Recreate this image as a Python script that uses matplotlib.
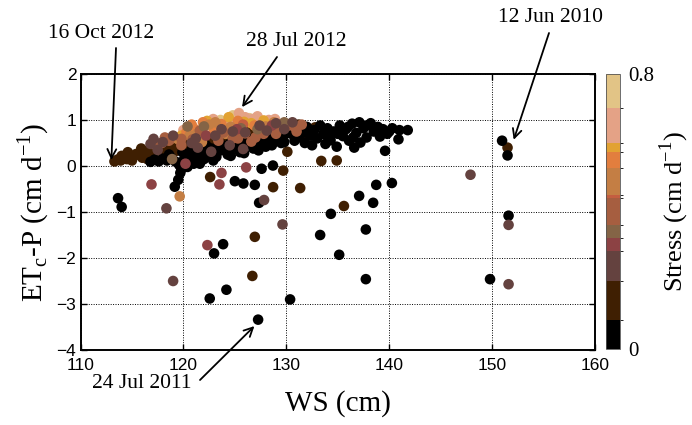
import matplotlib
matplotlib.use("Agg")
import matplotlib.pyplot as plt
from matplotlib.colors import ListedColormap, BoundaryNorm

# ---- colour scale (stress, cm d-1) ----
band_edges = [0, 0.085, 0.197, 0.284, 0.3225, 0.361, 0.439, 0.448, 0.526, 0.574, 0.6, 0.7, 0.8]
band_colors = ["#000000", "#3F1F02", "#64423F", "#8C4244", "#846446", "#A65E40",
               "#C45E40", "#C47E44", "#E27E3E", "#E2A232", "#E4A286", "#E2C486"]

# ---- coloured (higher stress) points ----
ws_col = [124.8, 126.4, 122.6, 127.5, 123.6, 125.0,
          125.4, 122.9, 127.2, 126.7, 121.6, 124.3, 128.3, 123.3, 124.0, 126.0, 128.9, 121.0, 120.0, 122.0,
          127.8, 122.3, 125.9, 119.8, 124.4, 126.6,
          121.9, 121.0, 123.7, 126.9, 120.3, 120.8, 125.3, 123.0,
          120.6, 123.1, 124.6, 128.8, 121.3, 119.5, 128.0, 119.64, 118.9, 122.5, 127.5, 124.1, 121.8,
          125.8,
          119.8, 123.9, 126.0, 126.6, 129.4, 130.2, 121.6, 118.6, 124.8, 127.8, 130.8, 131.5, 117.9, 120.9,
          117.0, 118.2, 125.3, 123.4, 129.0, 131.0, 119.8, 127.0,
          118.9, 122.0, 127.2, 129.8, 120.4, 125.6,
          125.2, 123.7, 123.5, 126.1, 116.9, 122.33, 120.2, 122.2, 128.6,
          119.0, 117.1, 123.1, 126.0, 125.8, 128.1, 122.7, 129.0, 117.5, 118.35, 119.0, 129.63,
          127.84, 147.9, 151.6, 151.6, 124.5, 120.8, 121.4,
          118.0, 121.2, 123.7, 124.8, 127.4, 129.8, 130.6, 116.8]
etcp_col = [1.10, 1.04, 0.82, 0.95, 1.00, 0.92,
            1.15, 1.02, 1.08, 1.02, 0.62, 0.98, 1.00, 0.90, 0.82, 1.06, 1.02, 0.68, 0.78, 0.72,
            0.99, 0.98, 0.96, 0.66, 1.06, 0.93,
            0.95, 0.82, 0.91, 0.88, 0.74, 0.90, 0.98, 0.78,
            0.66, 0.95, 0.85, 0.95, 0.70, 0.58, 0.86, -0.66, 0.60, 0.90, 0.82, 0.70, 0.52,
            0.90,
            0.59, 0.73, 0.71, 0.53, 0.84, 0.88, 0.77, 0.55, 0.60, 0.70, 0.85, 0.90, 0.50, 0.58,
            0.48, 0.62, 0.60, 0.55, 0.70, 0.75, 0.45, 0.62,
            0.15, 0.86, 0.80, 0.95, 0.86, 0.82,
            0.80, -0.15, -0.40, -0.03, -0.40, -1.72, 0.05, 0.66, 0.88,
            0.66, 0.59, 0.66, 0.73, 0.37, 0.77, 0.31, 0.93, 0.35, -0.92, -2.50, -1.27,
            -0.74, -0.19, -1.28, -2.57, 0.45, 0.50, 0.40,
            0.52, 0.60, 0.80, 0.75, 0.88, 0.80, 0.95, 0.48]
stress_col = ([0.75] * 6 + [0.65] * 14 + [0.59] * 6 + [0.55] * 8 + [0.49] * 13 + [0.445]
              + [0.40] * 22 + [0.34] * 6 + [0.30] * 9 + [0.24] * 27)

# ---- dark brown points (stress ~0.14) ----
ws_brn = [113.3, 113.6, 113.9, 114.2, 114.5, 114.8, 115.1, 115.4, 115.7, 116.0, 116.3, 116.6,
          116.9, 117.2, 117.5, 117.8, 118.1, 118.4, 118.7, 119.0, 119.3, 119.6, 119.9, 120.2,
          114.0, 115.0, 116.0, 117.0, 118.0, 119.2, 120.5, 121.0, 121.5, 122.0, 122.5, 123.0,
          124.0, 125.0, 126.0, 127.0, 128.0, 129.0, 130.0, 131.0, 132.0, 126.5, 128.5, 129.5,
          131.5, 130.3, 131.2, 132.0, 132.8, 130.8, 130.1, 129.7, 131.35, 133.4, 134.9, 128.72,
          126.7, 126.94, 135.6, 122.6, 151.5, 124.6, 127.6,
          121.8, 123.5, 125.5, 127.5, 129.2, 124.5, 126.2, 128.2,
          114.6, 115.9, 117.3, 118.5, 116.5, 119.7]
etcp_brn = [0.10, 0.14, 0.12, 0.18, 0.15, 0.22, 0.20, 0.26, 0.24, 0.30, 0.28, 0.34,
            0.30, 0.40, 0.36, 0.44, 0.38, 0.46, 0.42, 0.50, 0.45, 0.52, 0.48, 0.56,
            0.22, 0.12, 0.18, 0.22, 0.28, 0.32, 0.40, 0.50, 0.45, 0.55, 0.50, 0.60,
            0.62, 0.66, 0.60, 0.70, 0.72, 0.75, 0.78, 0.80, 0.82, 0.78, 0.62, 0.58,
            0.68, 0.82, 0.90, 0.75, 0.84, 0.65, 0.31, -0.10, -0.48, 0.11, 0.12, -0.46,
            -2.39, -1.54, -0.87, -0.24, 0.40, 0.30, 0.45,
            0.62, 0.70, 0.75, 0.80, 0.85, 0.55, 0.65, 0.55,
            0.30, 0.38, 0.50, 0.32, 0.15, 0.36]

# ---- black points (stress < 0.085) ----
ws_blk = [116.8, 117.2, 117.6, 118.0, 118.4, 118.8, 119.2, 119.6, 119.8, 120.0, 120.3, 120.6,
          120.9, 121.2, 121.5, 121.8, 122.1, 122.4, 122.7, 123.0, 123.3, 123.6, 123.9, 124.2,
          124.5, 124.8, 125.1, 125.4, 125.7, 126.0, 126.3, 126.6, 126.9, 127.2, 127.5, 127.8,
          128.1, 128.4, 128.7, 129.0, 129.3, 129.6, 129.9, 120.4, 121.0, 122.0, 123.2, 124.3,
          125.5, 126.8, 128.0, 129.5, 119.5, 119.7,
          120.8, 122.2, 123.5, 124.9, 126.2, 127.4, 128.8, 121.6, 122.9, 124.6, 125.9, 127.3,
          128.6, 129.8, 118.6, 119.9,
          130.5, 131.0, 131.2, 131.6, 132.0, 132.3, 132.7, 133.0, 133.3, 133.6, 134.0, 134.3,
          134.6, 134.9, 135.2, 135.5, 135.8, 136.1, 136.4, 136.6, 136.8, 137.1, 137.2, 137.5,
          137.8, 138.2, 138.5, 138.9, 139.1, 139.4, 139.6, 140.0, 140.3, 140.9, 141.0, 141.8,
          130.8, 131.8, 132.5, 133.8, 135.0, 136.0, 137.8, 139.8, 134.0, 136.5,
          113.65, 114.0, 119.16, 122.98, 123.86, 122.56, 124.18, 127.26, 130.37, 127.36, 125.83,
          126.94, 125.0, 133.29, 134.33, 135.14, 137.08, 138.44, 137.73, 137.73, 138.74, 140.26,
          151.6, 149.8, 150.97, 151.5, 127.6, 128.7]
etcp_blk = [0.09, 0.14, 0.10, 0.16, 0.12, 0.18, 0.10, 0.02, -0.07, 0.12, 0.20, 0.10,
            0.25, 0.18, 0.30, 0.22, 0.32, 0.26, 0.38, 0.30, 0.40, 0.34, 0.44, 0.36,
            0.48, 0.40, 0.50, 0.42, 0.52, 0.46, 0.55, 0.48, 0.58, 0.50, 0.60, 0.52,
            0.62, 0.55, 0.65, 0.58, 0.68, 0.60, 0.70, -0.02, 0.05, 0.15, 0.20, 0.25,
            0.30, 0.38, 0.42, 0.50, -0.30, -0.15,
            0.35, 0.45, 0.50, 0.58, 0.62, 0.68, 0.74, 0.05, 0.12, 0.22, 0.28, 0.34,
            0.45, 0.52, 0.25, 0.30,
            0.70, 0.80, 0.62, 0.72, 0.85, 0.66, 0.78, 0.60, 0.88, 0.70, 0.82, 0.56,
            0.75, 0.42, 0.88, 0.65, 0.80, 0.55, 0.92, 0.40, 0.72, 0.95, 0.51, 0.82,
            0.62, 0.93, 0.75, 0.85, 0.64, 0.80, 0.33, 0.75, 0.82, 0.58, 0.78, 0.78,
            0.55, 0.50, 0.45, 0.48, 0.70, 0.85, 0.88, 0.70, 0.65, 0.62,
            -0.70, -0.89, -0.45, -1.90, -1.70, -2.88, -2.69, -3.34, -2.90, -0.80, -0.38,
            -0.41, -0.33, -1.50, -1.04, -1.93, -0.65, -0.80, -1.38, -2.46, -0.41, -0.37,
            -1.08, -2.46, 0.55, 0.23, -0.06, 0.01]

# drawing order: dark brown, black, then the higher-stress colours on top
ws = ws_brn + ws_blk + ws_col
etcp = etcp_brn + etcp_blk + etcp_col
stress = [0.14] * len(ws_brn) + [0.04] * len(ws_blk) + stress_col

x_ticks = [110, 120, 130, 140, 150, 160]
y_ticks = [-4, -3, -2, -1, 0, 1, 2]

annotations = [("16 Oct 2012", (113.0, 0.13)),
               ("28 Jul 2012", (125.7, 1.28)),
               ("12 Jun 2010", (152.1, 0.57)),
               ("24 Jul 2011", (126.9, -3.48))]

# ---- figure ----
W, H = 692, 425
fig = plt.figure(figsize=(W / 100, H / 100), dpi=100)
ax = fig.add_axes([80.5 / W, 1 - 350 / H, (595 - 80.5) / W, (350 - 74) / H])
cax = fig.add_axes([606 / W, 1 - 349 / H, 14 / W, (349 - 74) / H])

cmap = ListedColormap(band_colors)
norm = BoundaryNorm(band_edges, cmap.N)

sc = ax.scatter(ws, etcp, c=stress, cmap=cmap, norm=norm, s=58, linewidths=0, zorder=3)

ax.set_xlim(110, 160)
ax.set_ylim(-4, 2)
ax.set_xticks(x_ticks)
ax.set_yticks(y_ticks)
ax.grid(True, linestyle=(0, (1, 1.5)), color="black", linewidth=0.7, zorder=1)
ax.tick_params(direction="in", top=True, right=True, length=4, width=1,
               labelsize=12.5)
ax.tick_params(axis="x", pad=6)
ax.tick_params(axis="y", pad=3)
for lab in ax.get_xticklabels() + ax.get_yticklabels():
    lab.set_fontfamily("Liberation Sans")
for s in ax.spines.values():
    s.set_linewidth(1.4)

serif = "Liberation Serif"
ax.set_xlabel("WS (cm)", fontfamily=serif, fontsize=21, labelpad=12)
ax.set_ylabel(r"ET$_\mathregular{c}$-P (cm d$^\mathregular{-1}$)", fontfamily=serif,
              fontsize=21, labelpad=4)

cb = fig.colorbar(sc, cax=cax, spacing="proportional", ticks=[0, 0.8])
cb.ax.set_yticklabels(["0", "0.8"], fontfamily=serif, fontsize=15)
cb.ax.tick_params(length=0, pad=6)
cb.outline.set_linewidth(0.6)
cb.outline.set_edgecolor("#555555")
cb.set_label(r"Stress (cm d$^\mathregular{-1}$)", fontfamily=serif, fontsize=19, labelpad=2)

# annotations: text position and arrow start in pixels (from top-left)
text_pos = [(101, 33), (296, 42), (551, 18), (142, 383)]
arrow_start = [(116, 48), (277, 57), (549, 33), (200, 380)]
for (label, tip), (tx, ty), (sx, sy) in zip(annotations, text_pos, arrow_start):
    fig.text(tx / W, 1 - ty / H, label, ha="center", va="center",
             fontfamily=serif, fontsize=15.5)
    ax.annotate("", xy=tip, xycoords="data",
                xytext=(sx / W, 1 - sy / H), textcoords="figure fraction",
                arrowprops=dict(arrowstyle="->", color="black", lw=1.3,
                                shrinkA=0, shrinkB=0, mutation_scale=16),
                annotation_clip=False, zorder=5)

fig.savefig("out.png", dpi=100)
